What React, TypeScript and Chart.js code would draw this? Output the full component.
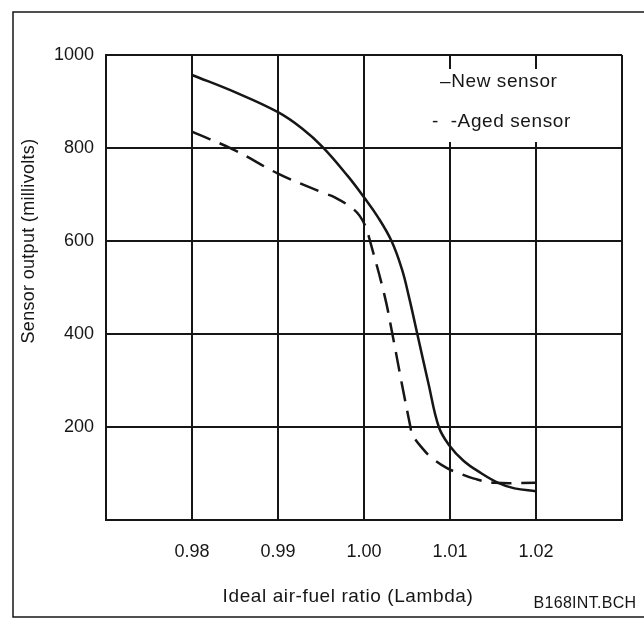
import React, { useEffect, useRef } from 'react';
import { Chart, registerables } from 'chart.js';

Chart.register(...registerables);

// ---- data ----
const seriesLabels = ['New sensor', 'Aged sensor'];
const lambdaNew = [0.98, 0.985, 0.99, 0.9928, 0.9952, 0.9981, 1.0, 1.0016, 1.0032, 1.0044, 1.0052, 1.0062, 1.0075, 1.0087, 1.0099, 1.0116, 1.0136, 1.0156, 1.0175, 1.02];
const mvNew = [957, 920, 877, 842, 802, 740, 694, 652, 600, 540, 482, 400, 293, 200, 161, 127, 101, 80, 68, 62];
const lambdaAged = [0.98, 0.985, 0.99, 0.9952, 0.9966, 0.9986, 0.9995, 1.0002, 1.0007, 1.0024, 1.0033, 1.0044, 1.0054, 1.0056, 1.0068, 1.0078, 1.0096, 1.011, 1.0128, 1.0152, 1.02];
const mvAged = [835, 795, 745, 704, 694, 671, 654, 630, 600, 482, 400, 293, 200, 184, 154, 135, 112, 101, 89, 80, 80];
const xTickLabels = ['0.98', '0.99', '1.00', '1.01', '1.02'];
const yTickLabels = ['200', '400', '600', '800', '1000'];
const xTitle = 'Ideal air-fuel ratio (Lambda)';
const yTitle = 'Sensor output (millivolts)';
const footnote = 'B168INT.BCH';

const FONT = "'Liberation Sans', Arial, Helvetica, sans-serif";
const INK = '#161616';

const toPoints = (xs: number[], ys: number[]) => xs.map((x, i) => ({ x, y: ys[i] }));

const decorPlugin = {
  id: 'decor',
  beforeDraw(chart: any) {
    const ctx = chart.ctx;
    ctx.save();
    ctx.fillStyle = '#ffffff';
    ctx.fillRect(0, 0, chart.width, chart.height);
    ctx.strokeStyle = INK;
    ctx.lineWidth = 1.5;
    ctx.strokeRect(13, 12, 660, 605);
    ctx.restore();
  },
  afterDraw(chart: any) {
    const ctx = chart.ctx;
    ctx.save();
    // legend box (blanks the grid behind it)
    ctx.fillStyle = '#ffffff';
    ctx.fillRect(428, 69, 176, 73);
    ctx.fillStyle = INK;
    ctx.textBaseline = 'middle';
    ctx.textAlign = 'left';
    (ctx as any).letterSpacing = '0.6px';
    ctx.font = `19px ${FONT}`;
    ctx.fillText('\u2013' + seriesLabels[0], 440, 82);
    ctx.fillText('-  -' + seriesLabels[1], 432, 122);

    // axis titles
    ctx.textAlign = 'center';
    ctx.font = `19px ${FONT}`;
    ctx.fillText(xTitle, 348, 597);
    ctx.save();
    ctx.translate(29, 241);
    ctx.rotate(-Math.PI / 2);
    (ctx as any).letterSpacing = '0.3px';
    ctx.font = `18px ${FONT}`;
    ctx.fillText(yTitle, 0, 0);
    ctx.restore();

    (ctx as any).letterSpacing = '0.3px';
    ctx.font = `16px ${FONT}`;
    ctx.fillText(footnote, 585, 604);
    ctx.restore();
  },
};

export default function App() {
  const ref = useRef<HTMLCanvasElement | null>(null);

  useEffect(() => {
    if (!ref.current) return;
    const chart = new Chart(ref.current, {
      type: 'line',
      data: {
        datasets: [
          {
            label: seriesLabels[0],
            data: toPoints(lambdaNew, mvNew),
            borderColor: INK,
            borderWidth: 2.5,
            pointRadius: 0,
            fill: false,
            tension: 0.4,
          },
          {
            label: seriesLabels[1],
            data: toPoints(lambdaAged, mvAged),
            borderColor: INK,
            borderWidth: 2.5,
            borderDash: [20, 10],
            pointRadius: 0,
            fill: false,
            tension: 0.4,
          },
        ],
      },
      options: {
        animation: false,
        responsive: false,
        maintainAspectRatio: false,
        layout: { padding: { top: 55, right: 22, left: 0, bottom: 0 } },
        plugins: {
          legend: { display: false },
          tooltip: { enabled: false },
        },
        scales: {
          x: {
            type: 'linear',
            min: 0.97,
            max: 1.03,
            ticks: {
              stepSize: 0.01,
              autoSkip: false,
              maxRotation: 0,
              padding: 21,
              color: INK,
              font: { size: 18, family: FONT },
              callback: (v: any) => {
                const s = Number(v).toFixed(2);
                return xTickLabels.includes(s) ? s : '';
              },
            },
            grid: { color: INK, lineWidth: 2, drawTicks: false },
            border: { display: true, color: INK, width: 2 },
            afterFit: (s: any) => { s.height = 100; },
          },
          y: {
            min: 0,
            max: 1000,
            ticks: {
              stepSize: 200,
              padding: 12,
              color: INK,
              font: { size: 18, family: FONT },
              callback: (v: any) => {
                const s = String(Math.round(Number(v)));
                return yTickLabels.includes(s) ? s : '';
              },
            },
            grid: { color: INK, lineWidth: 2, drawTicks: false },
            border: { display: true, color: INK, width: 2 },
            afterFit: (s: any) => { s.width = 106; },
          },
        },
      },
      plugins: [decorPlugin],
    } as any);
    return () => chart.destroy();
  }, []);

  return (
    <div style={{ position: 'absolute', left: 0, top: 0, width: 644, height: 620, background: '#fff' }}>
      <canvas ref={ref} width={644} height={620} style={{ display: 'block', width: 644, height: 620 }} />
    </div>
  );
}
